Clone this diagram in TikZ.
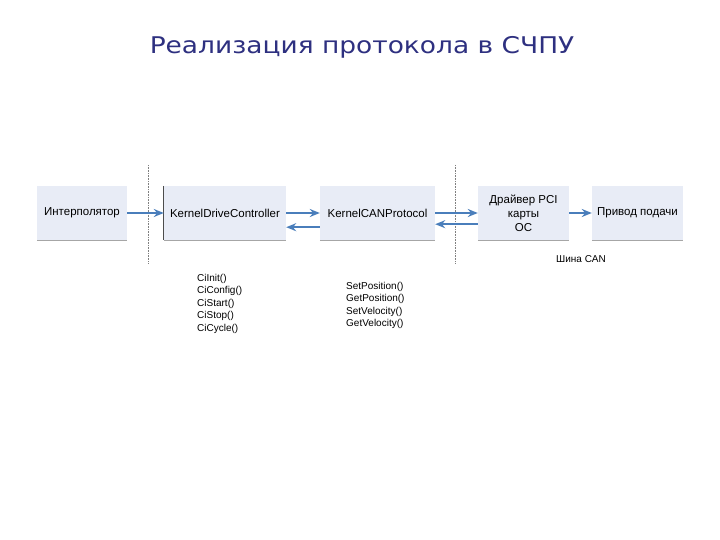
\documentclass[tikz,border=0pt]{standalone}
\usepackage{fontspec}
\setmainfont{Liberation Sans}
\newfontfamily\titlefont{DejaVu Sans}
\usetikzlibrary{arrows.meta}
\definecolor{boxfill}{HTML}{E8ECF6}
\definecolor{arr}{HTML}{4A7EBB}
\definecolor{titlec}{HTML}{2E3080}
\begin{document}
\begin{tikzpicture}[x=1pt,y=-1pt,
  blk/.style={fill=boxfill,draw=none,minimum height=54pt,inner sep=0pt,font=\fontsize{11.5}{14}\selectfont,align=center},
  fl/.style={draw=arr,line width=1.8pt,-{Stealth[length=10pt,width=8pt]}},
  sep/.style={draw=gray,densely dotted,line width=0.6pt},
  txt/.style={font=\fontsize{10}{12.5}\selectfont,align=left,inner sep=0pt}]
\useasboundingbox (0,0) rectangle (720,540);
\node[font=\titlefont\fontsize{23}{28}\selectfont,text=titlec,xscale=1.15] (title) at (362,47) {Реализация протокола в СЧПУ};
\node[blk,minimum width=90pt] (ip) at (82,213) {Интерполятор};
\node[blk,minimum width=122pt] (kdc) at (225,213) {KernelDriveController};
\node[blk,minimum width=115pt] (kcp) at (377.5,213) {KernelCANProtocol};
\node[blk,minimum width=91pt] (drv) at (523.5,213) {Драйвер PCI\\карты\\ОС};
\node[blk,minimum width=91pt] (pp) at (637.5,213) {Привод подачи};
\foreach \n in {ip,kdc,kcp,drv,pp} \draw[gray!70,line width=0.8pt] (\n.south west) -- (\n.south east);
\draw[black!70,line width=0.8pt] (kdc.north west) -- (kdc.south west);
\coordinate (s1t) at (148,165); \coordinate (s1b) at (148,263);
\coordinate (s2t) at (455,165); \coordinate (s2b) at (455,263);
\draw[sep] (s1t) -- (s1b);
\draw[sep] (s2t) -- (s2b);
\draw[fl] (ip.east) -- (kdc.west);
\draw[fl] (kdc.east) -- (kcp.west);
\draw[fl] ([yshift=13pt]kcp.south west) -- ([yshift=13pt]kdc.south east);
\draw[fl] (kcp.east) -- (drv.west);
\draw[fl] ([yshift=16pt]drv.south west) -- ([yshift=16pt]kcp.south east);
\draw[fl] (drv.east) -- (pp.west);
\node[txt,anchor=north] (can) at (581,255) {Шина CAN};
\node[txt,anchor=north west] (ci) at (197,274) {CiInit()\\CiConfig()\\CiStart()\\CiStop()\\CiCycle()};
\node[txt,anchor=north west] (sp) at (346,282) {SetPosition()\\GetPosition()\\SetVelocity()\\GetVelocity()};
\end{tikzpicture}
\end{document}
